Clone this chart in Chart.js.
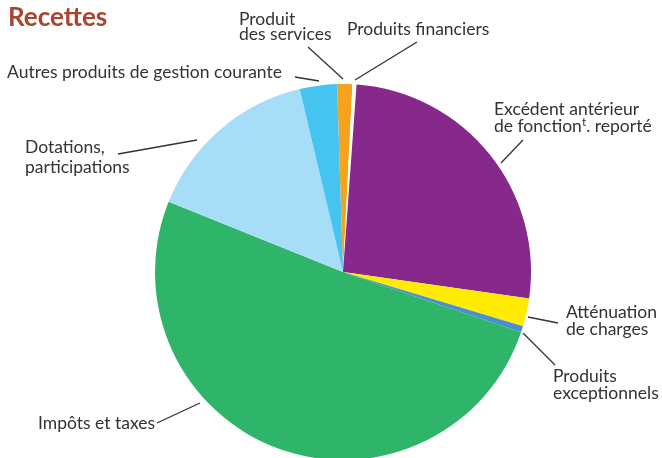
<!DOCTYPE html>
<html>
<head>
<meta charset="utf-8">
<script src="https://cdn.jsdelivr.net/npm/chart.js@4.4.0/dist/chart.umd.min.js"></script>
<style>
  body { margin: 0; background: #fff; overflow: hidden; }
  #wrap { position: relative; width: 662px; height: 458px; overflow: hidden; font-family: Lato, "Open Sans", sans-serif; color: #333; }
  #pie { position: absolute; left: 0; top: 0; }
  .lbl { position: absolute; font-size: 17.5px; line-height: 17.5px; white-space: nowrap; }
  .lbl sup { font-size: 12px; vertical-align: 6px; line-height: 0; }
  #title { position: absolute; left: 8px; top: 3px; font-size: 26px; font-weight: bold; color: #a9452f; line-height: 26px; }
</style>
</head>
<body>
<div id="wrap">
  <canvas id="pie" width="662" height="480"></canvas>
  <div id="title">Recettes</div>
</div>
<script>
// parts of the budget, clockwise from the top
const categories = [
  "Produit des services",
  "Produits financiers",
  "Excédent antérieur de fonctionnement reporté",
  "Atténuation de charges",
  "Produits exceptionnels",
  "Impôts et taxes",
  "Dotations, participations",
  "Autres produits de gestion courante",
];
// share of receipts, in %
const shares = [1.3, 0.35, 26.1, 2.4, 0.55, 50.9, 15.2, 3.2];
const colors = ["#f5a21d", "#fffdf5", "#86288c", "#ffec00", "#4a8fd0", "#2fb56a", "#a6ddf7", "#45c4f0"];

// label text lines: [text, x, baseline]
const labelLines = [
  ["Produit", 239, 25],
  ["des services", 239, 40],
  ["Produits financiers", 347, 35],
  ["Autres produits de gestion courante", 7, 78],
  ["Dotations,", 25, 153],
  ["participations", 25, 173],
  ["Excédent antérieur", 494, 115],
  ["de fonction<sup>t</sup>. reporté", 494, 132],
  ["Atténuation", 566, 318],
  ["de charges", 566, 335],
  ["Produits", 553, 382],
  ["exceptionnels", 553, 399],
  ["Impôts et taxes", 38, 429],
];
// leader lines
const leaders = [
  [308, 47, 343, 79],
  [417, 42, 355, 80],
  [295, 77, 319, 81],
  [118, 154, 197, 140],
  [157, 423, 200, 403],
  [523, 140, 501, 163],
  [528, 317, 558, 323],
  [523, 333, 555, 365],
];

const wrap = document.getElementById("wrap");
labelLines.forEach(([txt, x, y]) => {
  const d = document.createElement("div");
  d.className = "lbl";
  d.innerHTML = txt;
  d.style.left = x + "px";
  d.style.top = (y - 15.5) + "px";
  wrap.appendChild(d);
});

const leaderPlugin = {
  id: "leaders",
  afterDraw(chart) {
    const ctx = chart.ctx;
    ctx.save();
    ctx.strokeStyle = "#333";
    ctx.lineWidth = 1.3;
    leaders.forEach(([x1, y1, x2, y2]) => {
      ctx.beginPath();
      ctx.moveTo(x1, y1);
      ctx.lineTo(x2, y2);
      ctx.stroke();
    });
    ctx.restore();
  },
};

new Chart(document.getElementById("pie"), {
  type: "pie",
  data: {
    labels: categories,
    datasets: [{ data: shares, backgroundColor: colors, borderWidth: 0 }],
  },
  options: {
    responsive: false,
    animation: false,
    rotation: -1.8,
    layout: { padding: { left: 155, right: 131, top: 84, bottom: 20 } },
    plugins: { legend: { display: false }, tooltip: { enabled: false } },
  },
  plugins: [leaderPlugin],
});
</script>
</body>
</html>
